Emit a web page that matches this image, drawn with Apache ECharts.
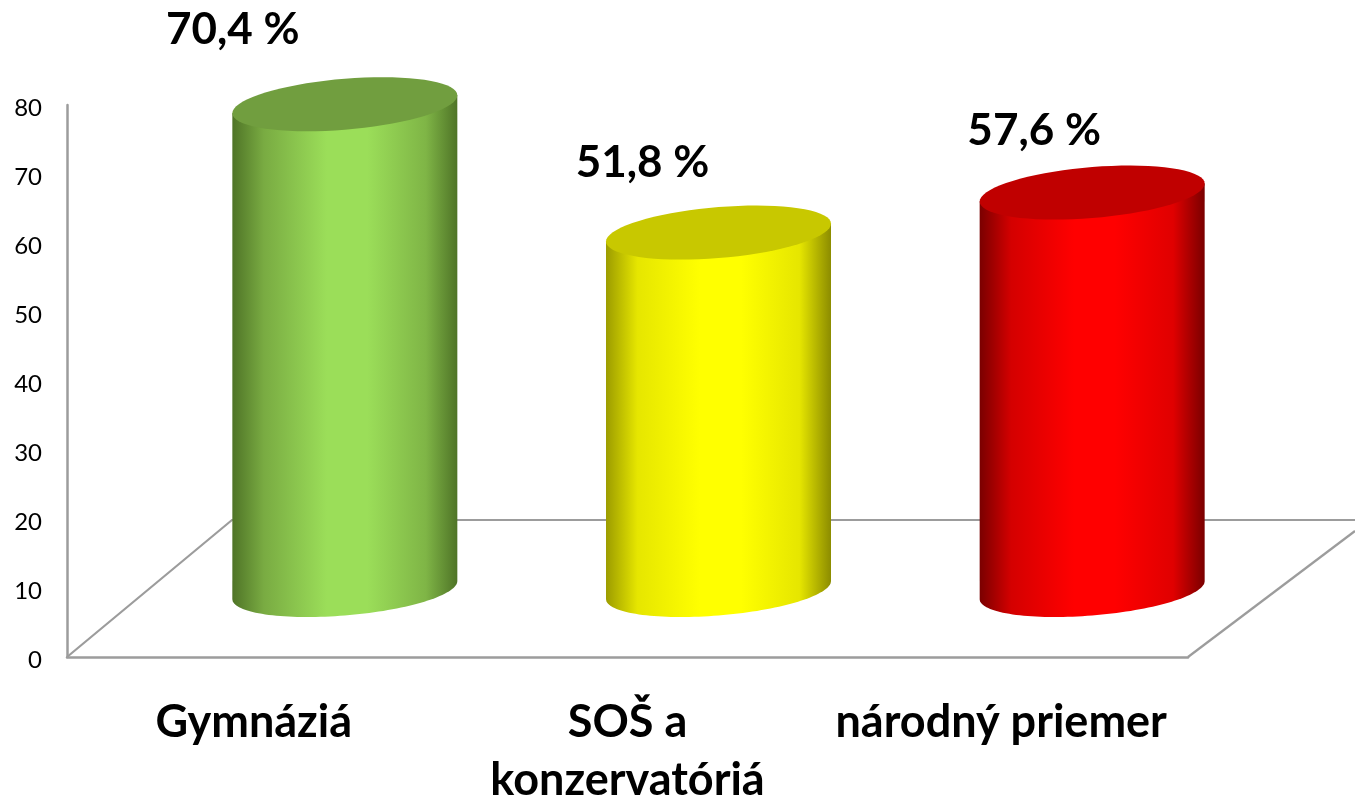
<!DOCTYPE html>
<html>
<head>
<meta charset="utf-8">
<style>html,body{margin:0;padding:0;background:#fff;overflow:hidden}#c{width:1355px;height:797px}</style>
<script src="https://cdn.jsdelivr.net/npm/echarts@6/dist/echarts.min.js"></script>
</head>
<body>
<div id="c"></div>
<script>
const categories = ['Gymnáziá', 'SOŠ a\nkonzervatóriá', 'národný priemer'];
const values = [70.4, 51.8, 57.6];
const valueLabels = ['70,4 %', '51,8 %', '57,6 %'];
const yTicks = { min: 0, max: 80, interval: 10 };

const sideColors = [
  ['#4f7427', '#79ab42', '#9bde59', '#9bde59', '#7fb546', '#4f7427'],
  ['#9c9c00', '#e6e600', '#ffff00', '#ffff00', '#e6e600', '#8c8c00'],
  ['#7a0000', '#d40000', '#ff0000', '#ff0000', '#e00000', '#7a0000']
];
const topColors = ['#719e3f', '#c8c800', '#c00000'];
const labelShift = [[-21, -74], [15, -70], [33, -62]];

const depth = { x: 91, y: -67 };
const cyl = { rx: 112.5, ry: 25.5, skew: -9 };
const stops = [0, 0.14, 0.42, 0.6, 0.86, 1];
const gray = '#9c9c9c';

function ellipse(cx, cy, from, to) {
  const pts = [];
  const n = 72;
  for (let i = 0; i <= n; i++) {
    const t = from + (to - from) * i / n;
    pts.push([cx + cyl.rx * Math.cos(t), cy + cyl.ry * Math.sin(t) + cyl.skew * Math.cos(t)]);
  }
  return pts;
}

function renderCylinder(params, api) {
  const i = api.value(0);
  const top = api.coord([i, api.value(1)]);
  const base = api.coord([i, 0]);
  const cx = top[0] + depth.x;
  const topY = top[1] + depth.y;
  const baseY = base[1] + depth.y;
  const bodyPts = [[cx - cyl.rx, topY - cyl.skew], [cx + cyl.rx, topY + cyl.skew]]
    .concat(ellipse(cx, baseY, 0, Math.PI));
  const grad = new echarts.graphic.LinearGradient(0, 0, 1, 0,
    sideColors[i].map((c, k) => ({ offset: stops[k], color: c })));
  return {
    type: 'group',
    children: [
      { type: 'polygon', shape: { points: bodyPts }, style: { fill: grad } },
      { type: 'polygon', shape: { points: ellipse(cx, topY, 0, Math.PI * 2) }, style: { fill: topColors[i] } },
      {
        type: 'text',
        style: {
          x: top[0] + labelShift[i][0],
          y: topY + labelShift[i][1],
          text: valueLabels[i],
          fill: '#000',
          font: 'bold 44px Lato',
          align: 'center',
          verticalAlign: 'middle'
        }
      }
    ]
  };
}

const chart = echarts.init(document.getElementById('c'), null, { renderer: 'canvas' });
chart.setOption({
  animation: false,
  backgroundColor: '#fff',
  grid: { left: 67, top: 105, width: 1121, height: 552, outerBoundsMode: 'none', containLabel: false },
  graphic: [
    { type: 'polyline', z: 0, shape: { points: [[67, 657], [232, 520], [1355, 520]] }, style: { stroke: gray, lineWidth: 2.2, fill: null } },
    { type: 'line', z: 0, shape: { x1: 1188, y1: 657, x2: 1355, y2: 531 }, style: { stroke: gray, lineWidth: 2.2 } }
  ],
  xAxis: {
    type: 'category',
    data: categories,
    axisLine: { lineStyle: { color: gray, width: 2.5 } },
    axisTick: { show: false },
    axisLabel: { color: '#000', fontFamily: 'Lato', fontWeight: 'bold', fontSize: 45, margin: 36, lineHeight: 58, interval: 0 }
  },
  yAxis: {
    type: 'value',
    min: yTicks.min,
    max: yTicks.max,
    interval: yTicks.interval,
    axisLine: { show: true, lineStyle: { color: gray, width: 2.5 } },
    axisTick: { show: false },
    splitLine: { show: false },
    axisLabel: { color: '#000', fontFamily: 'Lato', fontSize: 24, margin: 25, verticalAlign: 'top', lineHeight: 6 }
  },
  series: [{
    type: 'custom',
    renderItem: renderCylinder,
    encode: { x: 0, y: 1 },
    data: values.map((v, i) => [i, v]),
    z: 5
  }]
});
</script>
</body>
</html>
